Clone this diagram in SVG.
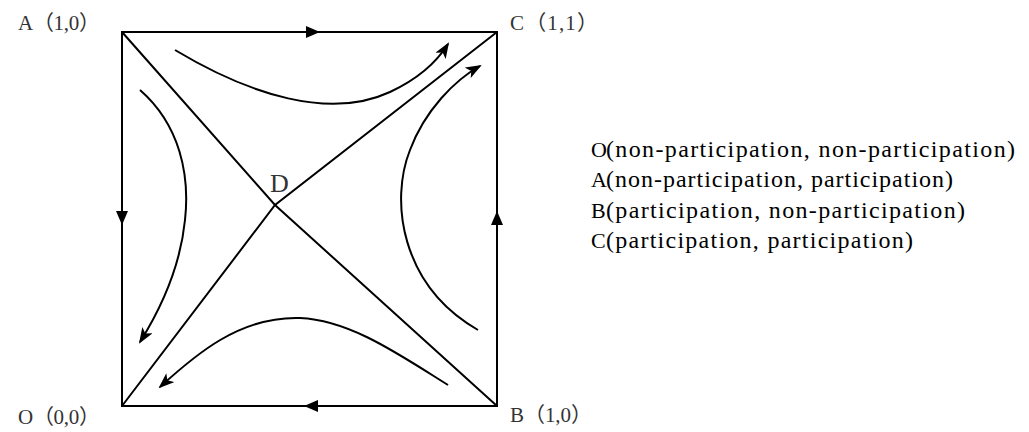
<svg xmlns="http://www.w3.org/2000/svg" width="1029" height="432" viewBox="0 0 1029 432">
<style>
.ln{fill:none;stroke:#000;stroke-width:2}
.cv{fill:none;stroke:#000;stroke-width:2;marker-end:url(#ah)}
.lbl{font-family:"Liberation Serif","Noto Sans CJK SC",serif;font-size:21px;fill:#333}
</style>
<defs>
<marker id="ah" viewBox="0 0 16 12" refX="14" refY="6" markerWidth="16" markerHeight="12" markerUnits="userSpaceOnUse" orient="auto">
<path d="M0,0 L16,6 L0,12 L4,6 Z" fill="#000"/>
</marker>
<path id="tri" d="M-7,-6 L7,0 L-7,6 Z" fill="#000"/>
</defs>
<g id="connectors">
<rect class="ln" x="122" y="32" width="375" height="374"/>
<polyline class="ln" points="122,32 275,205 497,406"/>
<polyline class="ln" points="122,406 275,205 497,32"/>
<use href="#tri" transform="translate(313,32)"/>
<use href="#tri" transform="translate(122,218) rotate(90)"/>
<use href="#tri" transform="translate(497,218) rotate(-90)"/>
<use href="#tri" transform="translate(311,406) rotate(180)"/>
<path class="cv" d="M175,50 C250,95 330,120 390,92 C420,78 438,60 448,44"/>
<path class="cv" d="M478,330 C400,285 390,200 410,150 C425,110 455,80 480,66"/>
<path class="cv" d="M140,90 C180,125 190,175 185,220 C180,270 160,310 140,342"/>
<path class="cv" d="M448,385 C400,355 350,320 300,318 C240,316 195,355 160,387"/>
</g>
<g id="node-A"><text class="lbl" x="18" y="30" textLength="82" lengthAdjust="spacing">A（1,0）</text></g>
<g id="node-C"><text class="lbl" x="510" y="30" textLength="88" lengthAdjust="spacing">C（1,1）</text></g>
<g id="node-O"><text class="lbl" x="18" y="424" textLength="82" lengthAdjust="spacing">O（0,0）</text></g>
<g id="node-B"><text class="lbl" x="510" y="422" textLength="82" lengthAdjust="spacing">B（1,0）</text></g>
<g id="node-D"><text class="lbl" x="270" y="192" style="font-size:26px">D</text></g>
<g id="legend" font-family="Liberation Serif, serif" fill="#000">
<text x="591" y="157" font-size="22">O</text><text x="606" y="157" font-size="24" textLength="409" lengthAdjust="spacing">(non-participation, non-participation)</text>
<text x="591" y="187" font-size="22">A</text><text x="606" y="187" font-size="24" textLength="347" lengthAdjust="spacing">(non-participation, participation)</text>
<text x="591" y="218" font-size="22">B</text><text x="606" y="218" font-size="24" textLength="359" lengthAdjust="spacing">(participation, non-participation)</text>
<text x="591" y="248" font-size="22">C</text><text x="606" y="248" font-size="24" textLength="307" lengthAdjust="spacing">(participation, participation)</text>
</g>
</svg>
